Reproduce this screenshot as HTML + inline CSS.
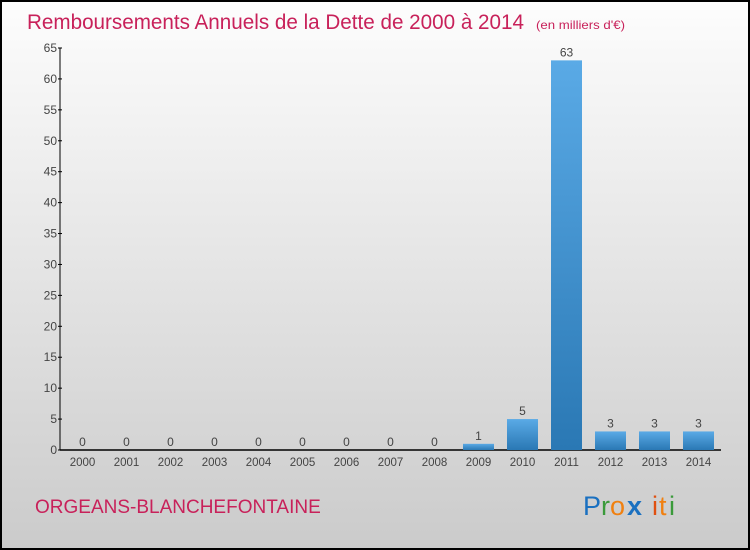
<!DOCTYPE html>
<html><head><meta charset="utf-8"><style>
body{margin:0}
#c{width:750px;height:550px;position:relative;overflow:hidden;font-family:"Liberation Sans",sans-serif}
</style></head><body>
<div id="c">
<svg id="s" width="750" height="550" xmlns="http://www.w3.org/2000/svg">
<defs>
<linearGradient id="bg" x1="0" y1="0" x2="0" y2="1"><stop offset="0" stop-color="#fdfdfd"/><stop offset="1" stop-color="#cbcbcb"/></linearGradient>
<linearGradient id="bar" x1="0" y1="0" x2="0" y2="1"><stop offset="0" stop-color="#5aaae6"/><stop offset="1" stop-color="#2a78b4"/></linearGradient>
</defs>
<rect x="1" y="1" width="748" height="548" fill="url(#bg)" stroke="#000" stroke-width="2"/>
<text x="27" y="29" font-size="21" fill="#c8215a" textLength="497" lengthAdjust="spacingAndGlyphs">Remboursements Annuels de la Dette de 2000 à 2014</text>
<text x="536" y="29" font-size="12" fill="#c8215a" textLength="89" lengthAdjust="spacingAndGlyphs">(en milliers d'€)</text>
<g id="axes"></g>
<g id="bars"></g>
<text x="35" y="513" font-size="19" fill="#c8215a">ORGEANS-BLANCHEFONTAINE</text>
<g font-size="27" font-family="'Liberation Sans',sans-serif">
<text x="583" y="515" fill="#1a70c0">P</text><text x="601" y="515" fill="#3a9a3a">r</text><text x="610" y="515" fill="#f08010">o</text><text x="627" y="515" fill="#1a70c0" font-weight="bold">x</text><text x="652" y="515" fill="#e05010">i</text><text x="659" y="515" fill="#f08010">t</text><text x="669" y="515" fill="#3a9a3a">i</text>
</g>
</svg>
</div>
<script>
const years=["2000","2001","2002","2003","2004","2005","2006","2007","2008","2009","2010","2011","2012","2013","2014"];
const values=[0,0,0,0,0,0,0,0,0,1,5,63,3,3,3];
const yTicks=[0,5,10,15,20,25,30,35,40,45,50,55,60,65];
const NS="http://www.w3.org/2000/svg";
const y0=450,yTop=48,yMax=65;
const yS=v=>y0-(v/yMax)*(y0-yTop);
const xS=i=>82.5+i*44;
const ax=document.getElementById('axes'),bg=document.getElementById('bars');
function mk(t,a,p){const e=document.createElementNS(NS,t);for(const k in a)e.setAttribute(k,a[k]);p.appendChild(e);return e;}
const yl=mk('line',{x1:60,y1:yTop,x2:60,y2:y0,stroke:'#000'},ax);


yTicks.forEach(v=>{
 const t=mk('line',{x1:58,x2:62,y1:yS(v),y2:yS(v),stroke:'#000'},ax);
 
 
 const l=mk('text',{x:57,y:yS(v)+4,'font-size':12,fill:'#444','text-anchor':'end'},ax);
 l.textContent=v;
 
 
});
years.forEach((yr,i)=>{
 const v=values[i],x=xS(i);
 const h=y0-yS(v);
 const r=mk('rect',{x:x-15.5,y:y0-h,width:31,height:h,fill:'url(#bar)'},bg);
 
 
 const vl=mk('text',{x:x,y:y0-h-4,'font-size':12,fill:'#444','text-anchor':'middle'},bg);
 vl.textContent=v;
 
 
 const xl=mk('text',{x:x,y:466,'font-size':11.5,fill:'#444','text-anchor':'middle'},ax);
 xl.textContent=yr;
 
 
});
const xa=mk('line',{x1:60,y1:y0,x2:721,y2:y0,stroke:'#000','stroke-width':1.5},ax);


</script>
</body></html>
